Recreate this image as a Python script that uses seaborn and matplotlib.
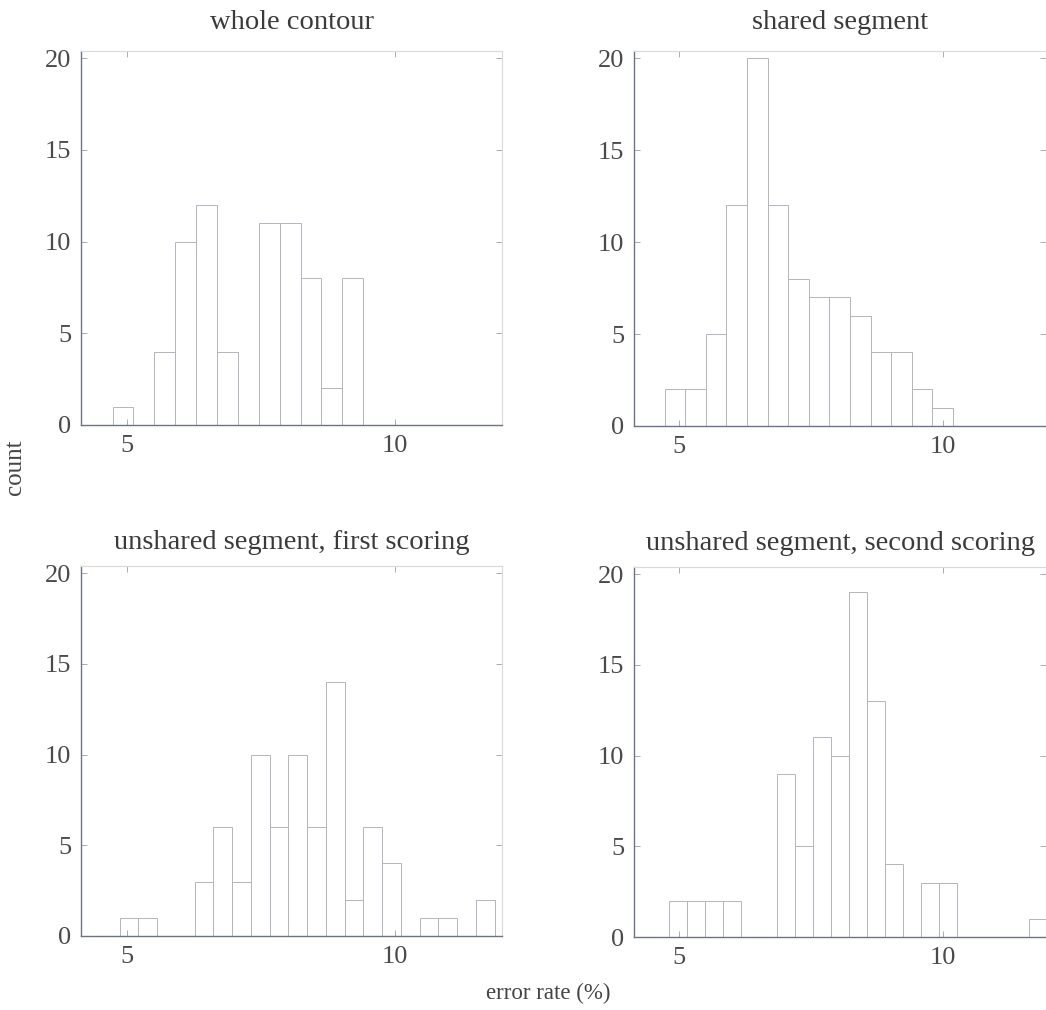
import pandas as pd
import matplotlib
matplotlib.use('Agg')
import matplotlib.pyplot as plt
import seaborn as sns

# panel titles
titles = ['whole contour', 'shared segment',
          'unshared segment, first scoring', 'unshared segment, second scoring']

# histogram bins (left edge of first bin, bin width) and counts
whole_start, whole_width = 4.73, 0.39
whole_counts = [1, 0, 4, 10, 12, 4, 0, 11, 11, 8, 2, 8, 0, 0, 0, 0, 0, 0, 0]

shared_start, shared_width = 4.73, 0.39
shared_counts = [2, 2, 5, 12, 20, 12, 8, 7, 7, 6, 4, 4, 2, 1, 0, 0, 0, 0, 0]

first_start, first_width = 4.86, 0.35
first_counts = [1, 1, 0, 0, 3, 6, 3, 10, 6, 10, 6, 14, 2, 6, 4, 0, 1, 1, 0, 2, 0]

second_start, second_width = 4.82, 0.34
second_counts = [2, 2, 2, 2, 0, 0, 9, 5, 11, 10, 19, 13, 4, 0, 3, 3, 0, 0, 0, 0, 1, 0]

x_ticks = [5, 10]
y_ticks = [0, 5, 10, 15, 20]

panels = [
    (whole_start, whole_width, whole_counts),
    (shared_start, shared_width, shared_counts),
    (first_start, first_width, first_counts),
    (second_start, second_width, second_counts),
]

sns.set_theme(style='ticks')
plt.rcParams['font.family'] = ['Liberation Serif', 'DejaVu Serif']

W, H = 1046, 1010
fig = plt.figure(figsize=(W / 100, H / 100), dpi=100)

# axes boxes in pixels: left, top, right, bottom
boxes = [(81, 51, 502, 425), (634, 51, 1046, 426),
         (81, 566, 502, 936), (634, 567, 1046, 937)]
xlims = [(4.14, 12.0), (4.15, 11.95), (4.14, 12.0), (4.15, 11.95)]
title_pads = [16, 16, 12, 12]

bar_color = '#b2b5c0'
for i, (start, width, counts) in enumerate(panels):
    l, t, r, b = boxes[i]
    ax = fig.add_axes([l / W, 1 - b / H, (r - l) / W, (b - t) / H])
    edges = [start + width * k for k in range(len(counts) + 1)]
    df = pd.DataFrame({'rate': [e + width / 2 for e in edges[:-1]],
                       'n': counts})
    sns.histplot(data=df, x='rate', weights='n', bins=edges, fill=False,
                 color=bar_color, linewidth=0.7, ax=ax)
    ax.set_xlim(*xlims[i])
    ax.set_ylim(0, 20.4)
    ax.set_xticks(x_ticks)
    ax.set_yticks(y_ticks)
    ax.set_xlabel('')
    ax.set_ylabel('')
    ax.tick_params(direction='in', length=4, width=0.6, labelsize=19,
                   labelcolor='#4a4a4a', color='#9a9fab', pad=7,
                   top=True, right=True)
    for side in ['left', 'bottom']:
        ax.spines[side].set_color('#6c7386')
        ax.spines[side].set_linewidth(1.0)
    for side in ['top', 'right']:
        ax.spines[side].set_color('#d8dadf')
        ax.spines[side].set_linewidth(0.8)
    ax.set_title(titles[i], fontsize=20.5, color='#3a3a3a', pad=title_pads[i])

fig.text(15 / W, 1 - 467 / H, 'count', rotation=90, ha='center', va='center',
         fontsize=18, color='#444444')
fig.text(548 / W, 1 - 993 / H, 'error rate (%)', ha='center', va='center',
         fontsize=16.5, color='#444444')

fig.savefig('out.png', dpi=100)
